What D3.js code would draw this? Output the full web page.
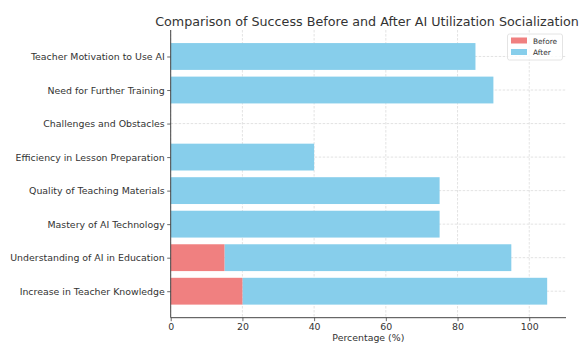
<!DOCTYPE html>
<html><head><meta charset="utf-8">
<script src="https://cdn.jsdelivr.net/npm/d3@7"></script>
<style>body{margin:0;background:#fff}svg{display:block}text{font-family:"DejaVu Sans",sans-serif}</style>
</head><body>
<svg id="c" width="581" height="343"></svg>
<script>
const categories = ["Increase in Teacher Knowledge","Understanding of AI in Education","Mastery of AI Technology","Quality of Teaching Materials","Efficiency in Lesson Preparation","Challenges and Obstacles","Need for Further Training","Teacher Motivation to Use AI"];
const beforeValues = [20,15,0,0,0,0,0,0];
const afterValues = [85,80,75,75,40,0,90,85];
const xTicks = [0,20,40,60,80,100];
const seriesNames = ["Before","After"];
const title = "Comparison of Success Before and After AI Utilization Socialization";
const xLabel = "Percentage (%)";

const svg = d3.select("#c");
const L = 170.7, R = 566, T = 30, B = 317.7;
const x = d3.scaleLinear().domain([0,110.25]).range([L,R]);
const y = d3.scaleLinear().domain([-0.79,7.79]).range([B,T]);
const colors = {Before:"#F08080", After:"#87CEEB"};
const txt = "#333";

// grid
const g = svg.append("g");
g.selectAll(".vg").data(xTicks).enter().append("line")
 .attr("x1",d=>x(d)).attr("x2",d=>x(d)).attr("y1",T).attr("y2",B)
 .attr("stroke","#dcdcdc").attr("stroke-width",0.8).attr("stroke-dasharray","2.5,1.5");
g.selectAll(".hg").data(categories).enter().append("line")
 .attr("x1",L).attr("x2",R).attr("y1",(d,i)=>y(i)).attr("y2",(d,i)=>y(i))
 .attr("stroke","#dcdcdc").attr("stroke-width",0.8).attr("stroke-dasharray","2.5,1.5");

const bh = y(0)-y(0.8);
svg.append("g").selectAll("rect").data(categories).enter().append("rect")
 .attr("x",(d,i)=>x(beforeValues[i])).attr("width",(d,i)=>x(beforeValues[i]+afterValues[i])-x(beforeValues[i]))
 .attr("y",(d,i)=>y(i+0.4)).attr("height",bh).attr("fill",colors.After);
svg.append("g").selectAll("rect").data(categories).enter().append("rect")
 .attr("x",x(0)).attr("width",(d,i)=>x(beforeValues[i])-x(0))
 .attr("y",(d,i)=>y(i+0.4)).attr("height",bh).attr("fill",colors.Before);

// axes
const xa = svg.append("g").attr("transform",`translate(0,${B})`)
 .call(d3.axisBottom(x).tickValues(xTicks).tickSize(3.5).tickPadding(2).tickFormat(d3.format("d")));
const ya = svg.append("g").attr("transform",`translate(${L},0)`)
 .call(d3.axisLeft(y).tickValues(d3.range(categories.length)).tickSize(3.5).tickPadding(2.5).tickFormat(i=>categories[i]));
[xa,ya].forEach(a=>{
  a.select(".domain").attr("stroke","#444").attr("stroke-width",1);
  a.selectAll(".tick line").attr("stroke","#444").attr("stroke-width",0.8);
  a.selectAll("text").attr("fill",txt).style("font-size","9.4px");
});
xa.select(".domain").attr("d",`M${L},0H${R}`);
ya.select(".domain").attr("d",`M0,${B}V${T}`);

const tt = svg.append("text").attr("x",367).attr("y",26).attr("text-anchor","middle")
 .attr("fill",txt).style("font-size","13px").text(title);
const w = tt.node().getComputedTextLength();
tt.style("font-size", (13*424/w).toFixed(2)+"px");
svg.append("text").attr("x",(L+R)/2).attr("y",341).attr("text-anchor","middle")
 .attr("fill",txt).style("font-size","9.4px").text(xLabel);

// legend
const lg = svg.append("g");
lg.append("rect").attr("x",507.5).attr("y",34).attr("width",55).attr("height",26)
 .attr("fill","#fff").attr("fill-opacity",0.8).attr("stroke","#ddd").attr("stroke-width",0.8).attr("rx",2);
seriesNames.forEach((s,i)=>{
  lg.append("rect").attr("x",511).attr("y",37.5+i*11.5).attr("width",16).attr("height",6).attr("fill",colors[s]);
  lg.append("text").attr("x",533).attr("y",43.5+i*11.5).attr("fill",txt).style("font-size","7.4px").text(s);
});
</script>
</body></html>
